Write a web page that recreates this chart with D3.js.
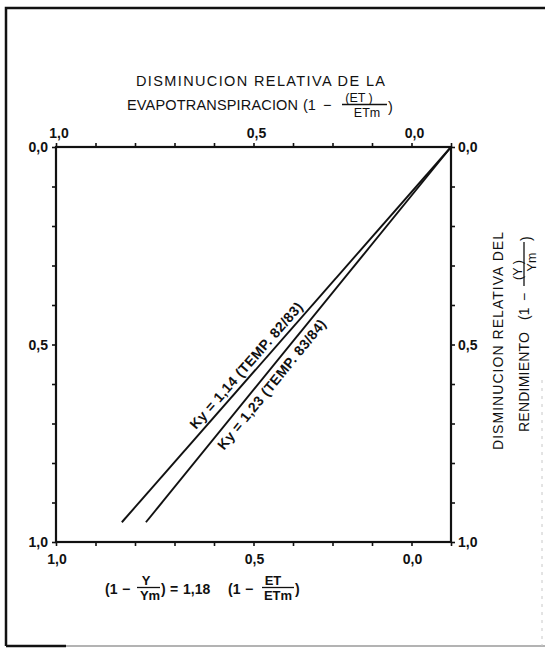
<!DOCTYPE html>
<html>
<head>
<meta charset="utf-8">
<script src="https://cdn.jsdelivr.net/npm/d3@7"></script>
<style>
  html, body { margin: 0; padding: 0; background: #fff; }
  svg { display: block; font-family: "Liberation Sans", Arial, Helvetica, sans-serif; }
</style>
</head>
<body>
<svg id="chart" width="545" height="648"></svg>
<script>
// Relative decrease of evapotranspiration (1 - ET/ETm) against
// relative decrease of yield (1 - Y/Ym), with the Ky response lines.
const tickSteps = [0, 0.1, 0.2, 0.3, 0.4, 0.5, 0.6, 0.7, 0.8, 0.9, 1.0];
const xLabelValues = [1.0, 0.5, 0.1];
const xLabelTexts = ["1,0", "0,5", "0,0"];
const yLabelValues = [0.0, 0.5, 1.0];
const yLabelTexts = ["0,0", "0,5", "1,0"];
const kyValues = [1.14, 1.23];
const kyTexts = ["1,14", "1,23"];
const seasons = ["82/83", "83/84"];
const lineEndY = [0.95, 0.95];
const meanKyText = "1,18";

const svg = d3.select("#chart");
const ink = "#111";

// outer frame
const frame = svg.append("g").attr("fill", "none").attr("stroke", ink);
frame.append("path").attr("d", "M6,646 L6,8 L545,8").attr("stroke-width", 2.5);
frame.append("path").attr("d", "M6,646 L66,646").attr("stroke-width", 2.5);
frame.append("path").attr("d", "M66,646 L545,646").attr("stroke", "#9a9a9a").attr("stroke-width", 1.5);
frame.append("path").attr("d", "M542,380 L542,646").attr("stroke", "#c8c8c8")
  .attr("stroke-width", 1).attr("stroke-dasharray", "3,5");

// plot area
const pLeft = 56, pRight = 451, pTop = 147, pBottom = 542;
const x = d3.scaleLinear().domain([1, 0]).range([pLeft, pRight]);
const y = d3.scaleLinear().domain([0, 1]).range([pTop, pBottom]);

function styleAxis(g) {
  g.select(".domain").remove();
  g.selectAll(".tick line").attr("stroke", ink).attr("stroke-width", 1.6);
  g.selectAll(".tick text").remove();
}
svg.append("g").attr("transform", `translate(0,${pTop})`)
  .call(d3.axisTop(x).tickValues(tickSteps).tickSize(4).tickSizeOuter(0).tickFormat(""))
  .call(styleAxis);
svg.append("g").attr("transform", `translate(0,${pBottom})`)
  .call(d3.axisBottom(x).tickValues(tickSteps).tickSize(4).tickSizeOuter(0).tickFormat(""))
  .call(styleAxis);
svg.append("g").attr("transform", `translate(${pLeft},0)`)
  .call(d3.axisLeft(y).tickValues(tickSteps).tickSize(4).tickSizeOuter(0).tickFormat(""))
  .call(styleAxis);
svg.append("g").attr("transform", `translate(${pRight},0)`)
  .call(d3.axisRight(y).tickValues(tickSteps).tickSize(4).tickSizeOuter(0).tickFormat(""))
  .call(styleAxis);

svg.append("rect")
  .attr("x", pLeft).attr("y", pTop)
  .attr("width", pRight - pLeft).attr("height", pBottom - pTop)
  .attr("fill", "none").attr("stroke", ink).attr("stroke-width", 2.2);

// tick labels
function tickLabel(px, py, text, anchor) {
  svg.append("text")
    .attr("x", px).attr("y", py)
    .attr("text-anchor", anchor)
    .attr("font-size", 14).attr("font-weight", "bold")
    .attr("fill", ink)
    .text(text);
}
xLabelValues.forEach((v, i) => {
  tickLabel(x(v) + 3, pTop - 9, xLabelTexts[i], "middle");
  tickLabel(x(v) + 1, pBottom + 22, xLabelTexts[i], "middle");
});
yLabelValues.forEach((v, i) => {
  tickLabel(pLeft - 8, y(v) + 5, yLabelTexts[i], "end");
  tickLabel(pRight + 7, y(v) + 5, yLabelTexts[i], "start");
});

// Ky lines: yield decrease = Ky * evapotranspiration decrease
const line = d3.line().x(d => x(d[0])).y(d => y(d[1]));
const series = kyValues.map((ky, i) => ({
  ky, text: kyTexts[i], season: seasons[i],
  pts: [[0, 0], [lineEndY[i] / ky, lineEndY[i]]]
}));
svg.append("g").selectAll("path").data(series).join("path")
  .attr("d", d => line(d.pts))
  .attr("fill", "none").attr("stroke", ink).attr("stroke-width", 1.9);

// labels along the lines
const labelAlong = [0.50, 0.475];
const labelShift = [-5, 15.5];
series.forEach((d, i) => {
  const lx = labelAlong[i];
  const px = x(lx), py = y(d.ky * lx);
  const ang = Math.atan2(y(0) - py, x(0) - px) * 180 / Math.PI;
  svg.append("text")
    .attr("transform", `translate(${px},${py}) rotate(${ang})`)
    .attr("y", labelShift[i])
    .attr("text-anchor", "middle")
    .attr("font-size", 14).attr("font-weight", "bold")
    .attr("textLength", 163).attr("lengthAdjust", "spacing")
    .attr("fill", ink)
    .text(`Ky = ${d.text} (TEMP. ${d.season})`);
});

// stacked fraction: numerator and denominator centred on their own x
function fraction(g, x0, x1, barY, num, numX, den, denX, size) {
  g.append("text").attr("x", numX).attr("y", barY - 2.5).attr("text-anchor", "middle")
    .attr("font-size", size).text(num);
  g.append("line").attr("x1", x0).attr("x2", x1).attr("y1", barY).attr("y2", barY)
    .attr("stroke", ink).attr("stroke-width", 1.3);
  g.append("text").attr("x", denX).attr("y", barY + size - 0.5).attr("text-anchor", "middle")
    .attr("font-size", size).text(den);
}
// "(1 −" prefix drawn as two pieces so the minus keeps its own gap
function onePrefix(g, x0, baseY, gap) {
  g.append("text").attr("x", x0).attr("y", baseY).text("(1");
  g.append("text").attr("x", x0 + gap).attr("y", baseY).text("\u2212");
}

// top title
const title = svg.append("g").attr("fill", ink).attr("font-size", 14.5);
title.append("text").attr("x", 136).attr("y", 86)
  .attr("textLength", 249).attr("lengthAdjust", "spacing")
  .text("DISMINUCION RELATIVA DE LA");
title.append("text").attr("x", 127).attr("y", 110)
  .attr("textLength", 171).attr("lengthAdjust", "spacing")
  .text("EVAPOTRANSPIRACION");
onePrefix(title, 303, 110, 20);
fraction(title, 342, 387, 104.5, "(ET )", 359, "ETm", 367, 12.5);
title.append("text").attr("x", 388).attr("y", 112).text(")");

// right title, rotated
const rt1 = svg.append("g").attr("fill", ink).attr("font-size", 14)
  .attr("transform", "translate(503,450) rotate(-90)");
rt1.append("text").attr("x", 0).attr("y", 0)
  .attr("textLength", 218).attr("lengthAdjust", "spacing")
  .text("DISMINUCION RELATIVA DEL");
const rt2 = svg.append("g").attr("fill", ink).attr("font-size", 14)
  .attr("transform", "translate(529,432) rotate(-90)");
rt2.append("text").attr("x", 0).attr("y", 0)
  .attr("textLength", 100).attr("lengthAdjust", "spacing")
  .text("RENDIMIENTO");
onePrefix(rt2, 112, 0, 19);
fraction(rt2, 146, 190, -5, "(Y )", 162, "Ym", 170, 12.5);
rt2.append("text").attr("x", 191).attr("y", 2).text(")");

// bottom formula
const fm = svg.append("g").attr("fill", ink).attr("font-size", 14).attr("font-weight", "bold");
onePrefix(fm, 105, 594, 17);
fraction(fm, 137, 160, 587.5, "Y", 146, "Ym", 150, 13);
fm.append("text").attr("x", 161).attr("y", 594).text(")");
fm.append("text").attr("x", 170).attr("y", 594).text("=");
fm.append("text").attr("x", 183).attr("y", 594).text(meanKyText);
onePrefix(fm, 228, 594, 17);
fraction(fm, 262, 294, 587.5, "ET", 273, "ETm", 278, 13);
fm.append("text").attr("x", 295).attr("y", 594).text(")");
</script>
</body>
</html>
